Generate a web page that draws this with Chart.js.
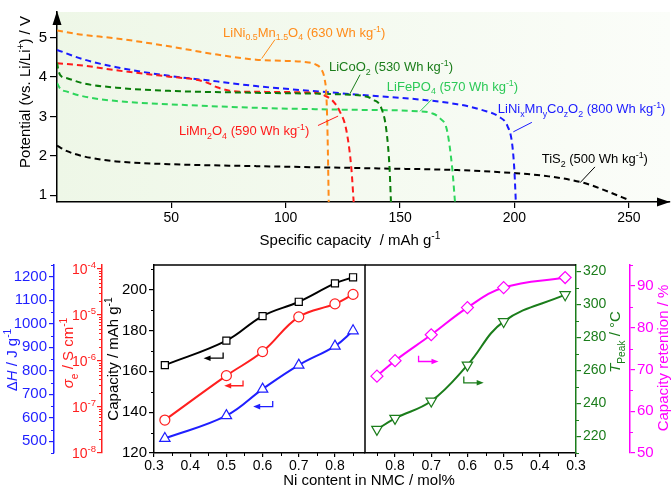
<!DOCTYPE html>
<html>
<head>
<meta charset="utf-8">
<script src="https://cdn.jsdelivr.net/npm/chart.js@4.4.1/dist/chart.umd.min.js"></script>
<style>
  body { margin: 0; background: #fff; }
  #wrap { position: relative; width: 672px; height: 490px; }
  canvas { position: absolute; left: 0; top: 0; }
</style>
</head>
<body>
<div id="wrap">
  <canvas id="topChart" width="672" height="490"></canvas>
  <canvas id="leftChart" width="672" height="490"></canvas>
  <canvas id="rightChart" width="672" height="490"></canvas>
</div>
<script>
// ---- top panel: discharge curves (capacity mAh/g, potential V) ----
const lnmoCap = [0, 10, 26, 49, 70, 87, 100, 110, 113, 115.5, 117, 117.8, 118.3, 118.8];
const lnmoV   = [5.18, 5.08, 4.98, 4.78, 4.57, 4.44, 4.41, 4.37, 4.32, 4.2, 3.95, 3.5, 2.5, 0.83];
const lcoCap  = [0, 0.5, 1.5, 4.4, 11.5, 26, 49, 87, 128, 134, 138.5, 141.8, 144, 145.4, 146];
const lcoV    = [4.37, 4.2, 4.04, 3.97, 3.84, 3.73, 3.65, 3.6, 3.55, 3.52, 3.42, 3.21, 2.65, 1.68, 0.83];
const lfpCap  = [0, 1.5, 4.4, 11.5, 26, 49, 87, 128, 158.5, 164, 167.5, 170.5, 172.8, 174];
const lfpV    = [3.85, 3.7, 3.63, 3.51, 3.39, 3.31, 3.22, 3.17, 3.13, 3.08, 2.95, 2.65, 1.68, 0.83];
const lmoCap  = [0, 11.5, 26, 49, 61, 66, 70, 75, 80, 113, 117, 120.5, 123.6, 126.5, 128.7, 129.7];
const lmoV    = [4.35, 4.29, 4.17, 4.01, 3.93, 3.85, 3.74, 3.66, 3.63, 3.6, 3.53, 3.4, 3.13, 2.65, 1.68, 0.83];
const nmcCap  = [0, 11.5, 26, 49, 70, 87, 128, 175, 186, 193, 197, 199, 200, 200.6];
const nmcV    = [4.69, 4.45, 4.25, 4.03, 3.89, 3.77, 3.57, 3.31, 3.16, 3.0, 2.75, 2.3, 1.6, 0.83];
const tisCap  = [0, 4.4, 11.5, 26, 49, 87, 142.5, 175, 200.7, 215, 230, 241.5, 250];
const tisV    = [2.26, 2.12, 1.99, 1.86, 1.79, 1.74, 1.68, 1.64, 1.56, 1.48, 1.32, 1.08, 0.88];
const curveNames = ['LiNi_{0.5}Mn_{1.5}O_{4}', 'LiCoO_{2}', 'LiFePO_{4}', 'LiMn_{2}O_{4}', 'LiNi_{x}Mn_{y}Co_{z}O_{2}', 'TiS_{2}'];
const energyDensity = [630, 530, 570, 590, 800, 500];
const capTicks = [50, 100, 150, 200, 250];
const voltTicks = [1, 2, 3, 4, 5];

// ---- bottom panels: NMC properties vs Ni content ----
const niContent    = [0.33, 0.5, 0.6, 0.7, 0.8, 0.85];
const capacity     = [163, 175, 187, 194, 203, 206];
const conductivity = [5.2e-8, 4.8e-7, 1.6e-6, 9.1e-6, 1.74e-5, 2.8e-5];
const heatRelease  = [512, 609, 722, 824, 905, 970];
const retention    = [92.0, 89.6, 84.8, 78.3, 72.1, 68.4];
const peakTemp     = [306, 289.7, 263.3, 241.5, 231, 224.3];
const niTicks    = [0.3, 0.4, 0.5, 0.6, 0.7, 0.8];
const capYTicks  = [120, 140, 160, 180, 200];
const heatTicks  = [500, 600, 700, 800, 900, 1000, 1100, 1200];
const sigmaExp   = [-8, -7, -6, -5, -4];
const tempTicks  = [220, 240, 260, 280, 300, 320];
const retTicks   = [50, 60, 70, 80, 90];

const fam = '"Liberation Sans", Arial, Helvetica, sans-serif';
const BLUE = '#1f1fff', RED = '#ff1f1f', GREEN = '#1b7d1b', MAGENTA = '#ff00ff';

function range(a, b, s) {
  const r = [];
  for (let v = a; v <= b + 1e-9; v += s) r.push(+v.toFixed(6));
  return r;
}

// text with _{sub}, ^{sup}, ~{italic}
function drawRich(ctx, str, x, y, size, color, opts = {}) {
  const parts = [];
  const re = /([_^~])\{([^}]*)\}/g;
  let last = 0, m;
  while ((m = re.exec(str))) {
    if (m.index > last) parts.push({ t: str.slice(last, m.index), k: '' });
    parts.push({ t: m[2], k: m[1] });
    last = re.lastIndex;
  }
  if (last < str.length) parts.push({ t: str.slice(last), k: '' });
  const fontOf = p => (p.k === '~' ? 'italic ' : '') + ((p.k === '_' || p.k === '^') ? size * 0.68 : size) + 'px ' + fam;
  ctx.save();
  let w = 0;
  parts.forEach(p => { ctx.font = fontOf(p); p.w = ctx.measureText(p.t).width; w += p.w; });
  ctx.translate(x, y);
  if (opts.rotate) ctx.rotate(opts.rotate);
  let cx = opts.align === 'center' ? -w / 2 : opts.align === 'right' ? -w : 0;
  ctx.fillStyle = color;
  ctx.textAlign = 'left';
  ctx.textBaseline = 'alphabetic';
  parts.forEach(p => {
    ctx.font = fontOf(p);
    const dy = p.k === '_' ? size * 0.28 : p.k === '^' ? -size * 0.4 : 0;
    ctx.fillText(p.t, cx, size * 0.36 + dy);
    cx += p.w;
  });
  ctx.restore();
}

function drawMinor(ctx, scale, values, len, color) {
  ctx.save();
  ctx.strokeStyle = color;
  ctx.lineWidth = 1;
  ctx.beginPath();
  values.forEach(v => {
    const p = Math.round(scale.getPixelForValue(v)) + 0.5;
    if (scale.isHorizontal()) { ctx.moveTo(p, scale.top); ctx.lineTo(p, scale.top + len); }
    else if (scale.position === 'left') { ctx.moveTo(scale.right, p); ctx.lineTo(scale.right - len, p); }
    else { ctx.moveTo(scale.left, p); ctx.lineTo(scale.left + len, p); }
  });
  ctx.stroke();
  ctx.restore();
}

function drawElbow(ctx, xs, ys, xScale, yScale, color) {
  // xs: [vertical x, tip x], ys: [top y, corner y]
  const vx = xScale.getPixelForValue(xs[0]), tx = xScale.getPixelForValue(xs[1]);
  const ty = yScale.getPixelForValue(ys[0]), cy = yScale.getPixelForValue(ys[1]);
  const dir = Math.sign(tx - vx);
  ctx.save();
  ctx.strokeStyle = color; ctx.fillStyle = color; ctx.lineWidth = 1.3;
  ctx.beginPath(); ctx.moveTo(vx, ty); ctx.lineTo(vx, cy); ctx.lineTo(tx - dir * 4, cy); ctx.stroke();
  ctx.beginPath(); ctx.moveTo(tx, cy); ctx.lineTo(tx - dir * 7, cy - 2.8); ctx.lineTo(tx - dir * 7, cy + 2.8); ctx.closePath(); ctx.fill();
  ctx.restore();
}

const plain = v => String(v);
function yAxis(color, min, max, ticks, width, extra, size = 14) {
  return Object.assign({
    min, max,
    afterBuildTicks: s => { s.ticks = ticks.map(v => ({ value: v })); },
    afterFit: s => { s.width = width; },
    grid: { drawOnChartArea: false, color, tickLength: 5, lineWidth: 1.2 },
    border: { color, width: 1.5 },
    ticks: { color, font: { family: fam, size }, padding: 2, callback: plain }
  }, extra);
}

// ---------------- top chart ----------------
const curveCaps = [lnmoCap, lcoCap, lfpCap, lmoCap, nmcCap, tisCap];
const curveVs = [lnmoV, lcoV, lfpV, lmoV, nmcV, tisV];
const curveColors = ['#ff8c1a', '#0a7d0a', '#2ed65c', '#ff1a1a', '#1a1aff', '#000000'];
const labelColors = ['#ff8c1a', '#1b7d1b', '#2cc957', '#ff1a1a', '#1a1aff', '#000000'];
// label anchor [capacity, V] and leader line [c1, v1, c2, v2]
const labelAt = [[72.6, 5.14], [118.9, 4.27], [144.2, 3.77], [53.3, 2.64], [192.7, 3.21], [211.9, 1.94]];
const leaders = [[95.3, 4.95, 89.5, 4.47], [132.5, 4.06, 128.1, 3.58], [163.8, 3.43, 158.7, 3.13],
                 [114.1, 2.77, 122.9, 3.01], [207.6, 2.85, 199.5, 2.61], [235.2, 1.72, 228.7, 1.32]];

const topDecor = {
  id: 'topDecor',
  beforeDraw(chart) {
    const { ctx, chartArea: a } = chart;
    const g = ctx.createLinearGradient(a.left, 0, a.right, 0);
    g.addColorStop(0, '#eef7e7');
    g.addColorStop(1, '#fbfdf9');
    ctx.save();
    ctx.fillStyle = g;
    ctx.fillRect(a.left, a.top, a.right - a.left, a.bottom - a.top);
    ctx.restore();
  },
  afterDraw(chart) {
    const { ctx, chartArea: a, scales: { x, y } } = chart;
    ctx.save();
    ctx.fillStyle = '#000';
    ctx.beginPath(); ctx.moveTo(a.left, a.top - 1); ctx.lineTo(a.left - 4.5, a.top + 13); ctx.lineTo(a.left + 4.5, a.top + 13); ctx.closePath(); ctx.fill();
    ctx.beginPath(); ctx.moveTo(a.right, a.bottom); ctx.lineTo(a.right - 13, a.bottom - 4.5); ctx.lineTo(a.right - 13, a.bottom + 4.5); ctx.closePath(); ctx.fill();
    curveNames.forEach((name, i) => {
      const l = leaders[i];
      ctx.strokeStyle = labelColors[i];
      ctx.lineWidth = 1;
      ctx.beginPath();
      ctx.moveTo(x.getPixelForValue(l[0]), y.getPixelForValue(l[1]));
      ctx.lineTo(x.getPixelForValue(l[2]), y.getPixelForValue(l[3]));
      ctx.stroke();
      drawRich(ctx, name + ' (' + energyDensity[i] + ' Wh kg^{-1})',
        x.getPixelForValue(labelAt[i][0]), y.getPixelForValue(labelAt[i][1]), 13, labelColors[i]);
    });
    drawRich(ctx, 'Potential (vs. Li/Li^{+}) / V', 25, 92, 15, '#000', { rotate: -Math.PI / 2, align: 'center' });
    drawRich(ctx, 'Specific capacity  / mAh g^{-1}', 350, 240, 15, '#000', { align: 'center' });
    ctx.restore();
  }
};

new Chart(document.getElementById('topChart'), {
  type: 'line',
  data: {
    datasets: curveCaps.map((caps, i) => ({
      data: caps.map((c, j) => ({ x: c, y: curveVs[i][j] })),
      borderColor: curveColors[i],
      borderWidth: 2,
      borderDash: [6, 4],
      pointRadius: 0,
      cubicInterpolationMode: 'monotone',
      fill: false
    }))
  },
  options: {
    responsive: false, animation: false, events: [],
    layout: { padding: { top: 2, right: 2, left: 0, bottom: 0 } },
    plugins: { legend: { display: false }, tooltip: { enabled: false } },
    scales: {
      x: {
        type: 'linear', min: 0, max: 268,
        afterBuildTicks: s => { s.ticks = capTicks.map(v => ({ value: v })); },
        afterFit: s => { s.height = 288; },
        grid: { drawOnChartArea: false, color: '#000', tickLength: 6, lineWidth: 1.2 },
        border: { color: '#000', width: 1.5 },
        ticks: { color: '#000', font: { family: fam, size: 14 }, padding: 2, maxRotation: 0, callback: plain }
      },
      y: yAxis('#000', 0.83, 5.65, voltTicks, 57, { grid: { drawOnChartArea: false, color: '#000', tickLength: 7, lineWidth: 1.2 }, ticks: { color: '#000', font: { family: fam, size: 15 }, padding: 3, callback: plain } })
    }
  },
  plugins: [topDecor]
});

// ---------------- bottom left chart ----------------
const leftArrows = [
  { color: '#000', xs: [0.491, 0.437], ys: [169.2, 166.4] },
  { color: RED,   xs: [0.546, 0.494], ys: [155.5, 152.9] },
  { color: BLUE,  xs: [0.628, 0.574], ys: [145.5, 142.7] }
];

const leftDecor = {
  id: 'leftDecor',
  afterDraw(chart) {
    const { ctx, chartArea: a, scales } = chart;
    ctx.save();
    ctx.strokeStyle = '#000'; ctx.lineWidth = 1.5;
    ctx.beginPath(); ctx.moveTo(a.left, a.top); ctx.lineTo(a.right, a.top); ctx.lineTo(a.right, a.bottom); ctx.stroke();
    ctx.restore();
    drawMinor(ctx, scales.y, range(130, 210, 20), 3, '#000');
    drawMinor(ctx, scales.yH, range(450, 1250, 100), 3, BLUE);
    const logMinor = [];
    sigmaExp.slice(0, -1).forEach(e => { for (let k = 2; k <= 9; k++) logMinor.push(k * Math.pow(10, e)); });
    drawMinor(ctx, scales.ySigma, logMinor, 3, RED);
    drawMinor(ctx, scales.x, range(0.35, 0.85, 0.1), 3, '#000');
    sigmaExp.forEach(e => {
      drawRich(ctx, '10^{' + e + '}', scales.ySigma.right - 6, scales.ySigma.getPixelForValue(Math.pow(10, e)), 14, RED, { align: 'right' });
    });
    leftArrows.forEach(ar => drawElbow(ctx, ar.xs, ar.ys, scales.x, scales.y, ar.color));
    drawRich(ctx, 'Δ~{H} / J g^{-1}', 12, 360, 15, BLUE, { rotate: -Math.PI / 2, align: 'center' });
    drawRich(ctx, '~{σ}_{e} / S cm^{-1}', 68, 353, 15, RED, { rotate: -Math.PI / 2, align: 'center' });
    drawRich(ctx, 'Capacity / mAh g^{-1}', 113, 359, 15, '#000', { rotate: -Math.PI / 2, align: 'center' });
    drawRich(ctx, 'Ni content in NMC / mol%', 369, 480, 15, '#000', { align: 'center' });
  }
};

function series(values, color, style, axis, extra) {
  return Object.assign({
    data: niContent.map((x, i) => ({ x, y: values[i] })),
    yAxisID: axis,
    borderColor: color,
    borderWidth: 2,
    pointStyle: style,
    pointRadius: 5,
    pointBorderWidth: 1.2,
    pointBorderColor: color,
    pointBackgroundColor: '#fff',
    tension: 0.4,
    fill: false
  }, extra);
}

const niX = (reverse) => ({
  type: 'linear', min: 0.3, max: 0.883, reverse,
  afterBuildTicks: s => { s.ticks = niTicks.map(v => ({ value: v })); },
  afterFit: s => { s.height = 37; },
  grid: { drawOnChartArea: false, color: '#000', tickLength: 4, lineWidth: 1.2 },
  border: { color: '#000', width: 1.5 },
  ticks: { color: '#000', font: { family: fam, size: 14 }, padding: 1, maxRotation: 0, callback: v => v.toFixed(1) }
});

new Chart(document.getElementById('leftChart'), {
  type: 'line',
  data: {
    datasets: [
      series(capacity, '#000', 'rect', 'y', { pointRadius: 5 }),
      series(conductivity, RED, 'circle', 'ySigma'),
      series(heatRelease, BLUE, 'triangle', 'yH', { pointRadius: 6 })
    ]
  },
  options: {
    responsive: false, animation: false, events: [],
    layout: { padding: { top: 265, right: 307, left: 0, bottom: 0 } },
    plugins: { legend: { display: false }, tooltip: { enabled: false } },
    scales: {
      x: niX(false),
      y: yAxis('#000', 120, 212, capYTicks, 52, { position: 'left', weight: 0 }, 15),
      ySigma: yAxis(RED, 1e-8, 1.22e-4, sigmaExp.map(e => Math.pow(10, e)), 48, {
        type: 'logarithmic', position: 'left', weight: 1,
        ticks: { display: false }
      }),
      yH: yAxis(BLUE, 450, 1250, heatTicks, 54, { position: 'left', weight: 2 }, 15)
    }
  },
  plugins: [leftDecor]
});

// ---------------- bottom right chart ----------------
const rightArrows = [
  { color: MAGENTA, xs: [0.735, 0.68], ys: [73.3, 71.9] },
  { color: GREEN,   xs: [0.61, 0.555], ys: [68.3, 66.8] }
];

const rightDecor = {
  id: 'rightDecor',
  afterDraw(chart) {
    const { ctx, chartArea: a, scales } = chart;
    ctx.save();
    ctx.strokeStyle = '#000'; ctx.lineWidth = 1.5;
    ctx.beginPath(); ctx.moveTo(a.left, a.top); ctx.lineTo(a.right, a.top); ctx.stroke();
    ctx.restore();
    drawMinor(ctx, scales.yT, range(210, 310, 20), 3, GREEN);
    drawMinor(ctx, scales.yRet, range(55, 95, 10), 3, MAGENTA);
    drawMinor(ctx, scales.x, range(0.35, 0.85, 0.1), 3, '#000');
    rightArrows.forEach(ar => drawElbow(ctx, ar.xs, ar.ys, scales.x, scales.yRet, ar.color));
    drawRich(ctx, '~{T}_{Peak} / °C', 615, 342, 15, GREEN, { rotate: -Math.PI / 2, align: 'center' });
    drawRich(ctx, 'Capacity retention / %', 663, 358, 15, MAGENTA, { rotate: -Math.PI / 2, align: 'center' });
  }
};

new Chart(document.getElementById('rightChart'), {
  type: 'line',
  data: {
    datasets: [
      series(retention, MAGENTA, 'rectRot', 'yRet', { pointRadius: 6 }),
      series(peakTemp, GREEN, 'triangle', 'yT', { pointRadius: 6, pointRotation: 180 })
    ]
  },
  options: {
    responsive: false, animation: false, events: [],
    layout: { padding: { top: 265, right: 0, left: 365, bottom: 0 } },
    plugins: { legend: { display: false }, tooltip: { enabled: false } },
    scales: {
      x: niX(true),
      yT: yAxis(GREEN, 210, 324, tempTicks, 54, { position: 'right', weight: 0 }),
      yRet: yAxis(MAGENTA, 50, 95, retTicks, 42, { position: 'right', weight: 1 }, 15)
    }
  },
  plugins: [rightDecor]
});
</script>
</body>
</html>
